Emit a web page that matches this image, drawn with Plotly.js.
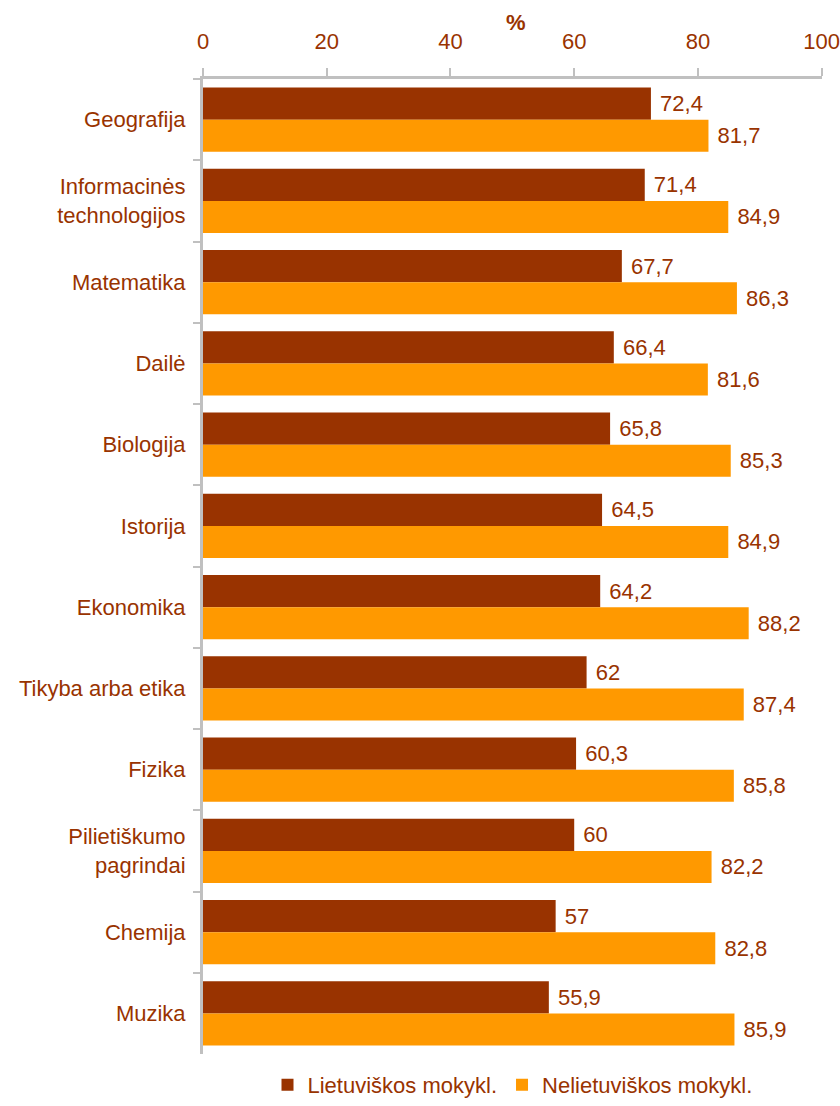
<!DOCTYPE html>
<html><head><meta charset="utf-8">
<script src="https://cdn.plot.ly/plotly-3.0.1.min.js"></script>
<style>body{margin:0;background:#fff}#chart{width:840px;height:1106px}</style>
</head><body><div id="chart"></div>
<script>
const categories = ["Geografija","Informacinės<br>technologijos","Matematika","Dailė","Biologija","Istorija","Ekonomika","Tikyba arba etika","Fizika","Pilietiškumo<br>pagrindai","Chemija","Muzika"];
const lietuviskos = [72.4,71.4,67.7,66.4,65.8,64.5,64.2,62,60.3,60,57,55.9];
const nelietuviskos = [81.7,84.9,86.3,81.6,85.3,84.9,88.2,87.4,85.8,82.2,82.8,85.9];
const seriesNames = ["Lietuviškos mokykl.","Nelietuviškos mokykl."];
const xTicks = [0,20,40,60,80,100];
const axisTitle = "%";

const txtColor = "#993300";
const fmt = v => ' ' + String(v).replace('.', ',');
const fnt = {family:"Liberation Sans, Arial, sans-serif", size:22, color:txtColor};

const traces = [
  {type:'bar', orientation:'h', name:seriesNames[0], y:categories, x:lietuviskos,
   marker:{color:'#993300'}, text:lietuviskos.map(fmt), textposition:'outside',
   textfont:fnt, cliponaxis:false, hoverinfo:'skip'},
  {type:'bar', orientation:'h', name:seriesNames[1], y:categories, x:nelietuviskos,
   marker:{color:'#FF9900'}, text:nelietuviskos.map(fmt), textposition:'outside',
   textfont:fnt, cliponaxis:false, hoverinfo:'skip'}
];

const layout = {
  width:840, height:1106,
  margin:{l:203, r:18, t:79, b:52, autoexpand:false},
  paper_bgcolor:'#fff', plot_bgcolor:'#fff',
  font:fnt,
  barmode:'group', bargap:0.21, bargroupgap:0,
  xaxis:{side:'top', range:[0,100.05], tickvals:xTicks, ticktext:xTicks.map(String),
    showgrid:false, zeroline:false, showline:true, linecolor:'#c0c0c0', linewidth:3,
    ticks:'outside', ticklen:8, tickwidth:2, tickcolor:'#c0c0c0',
    tickfont:fnt, ticklabelstandoff:10, ticklabeloverflow:'allow'},
  yaxis:{autorange:'reversed', type:'category', showgrid:false, zeroline:false,
    showline:true, linecolor:'#c0c0c0', linewidth:3,
    ticks:'outside', tickson:'boundaries', ticklen:7, tickwidth:2, tickcolor:'#c0c0c0',
    tickfont:fnt, ticklabelstandoff:10},
  annotations:[{text:'<b>'+axisTitle+'</b>', xref:'paper', yref:'paper', x:0.505, y:1,
    xanchor:'center', yanchor:'middle', yshift:57, showarrow:false, font:fnt}],
  legend:{orientation:'h', x:0.5, xanchor:'center', yref:'container', y:0.0, yanchor:'bottom',
    font:fnt, traceorder:'normal', itemwidth:30},
  showlegend:true
};
Plotly.newPlot('chart', traces, layout, {displayModeBar:false, staticPlot:true});
</script></body></html>
